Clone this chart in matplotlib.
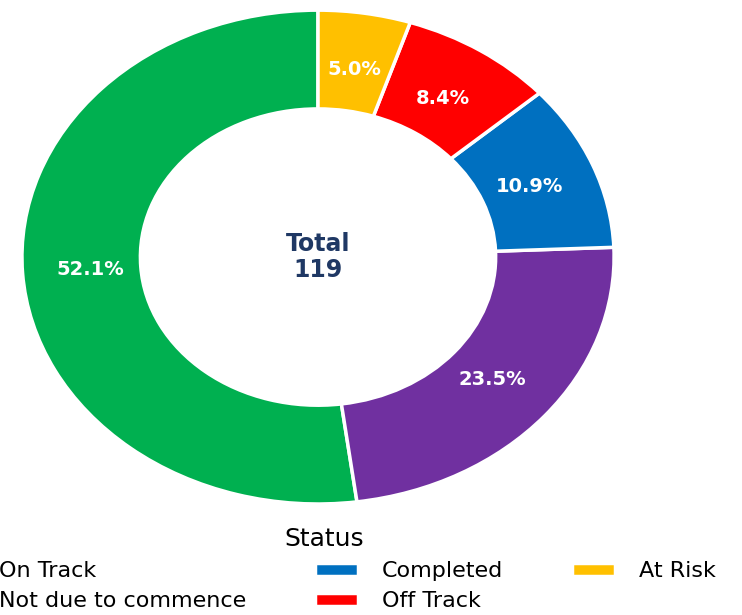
import matplotlib.pyplot as plt

labels = ["On Track", "Not due to commence", "Completed", "Off Track", "At Risk"]
counts = [62, 28, 13, 10, 6]
colors = ["#00B050", "#7030A0", "#0070C0", "#FF0000", "#FFC000"]
total = sum(counts)

fig = plt.figure(figsize=(7.42, 6.15), dpi=100)
# pie area is stretched wider than tall, like the reference
ax = fig.add_axes([0.0296, 0.1805, 0.798, 0.803])

wedges, texts, autotexts = ax.pie(
    counts,
    colors=colors,
    startangle=90,
    autopct="%1.1f%%",
    pctdistance=0.77,
    wedgeprops=dict(width=0.4, edgecolor="white", linewidth=2.5),
    textprops=dict(color="white", fontsize=14, fontweight="bold"),
)
ax.set_aspect("auto")
ax.set_xlim(-1, 1)
ax.set_ylim(-1, 1)

ax.text(0, 0.0, f"Total\n{total}", ha="center", va="center",
        fontsize=17, fontweight="bold", color="#1F3864", linespacing=1.1)

fig.legend(
    wedges, labels,
    title="Status",
    loc="upper center",
    bbox_to_anchor=(324 / 742, 0.168),
    ncol=3,
    frameon=False,
    fontsize=16,
    title_fontsize=18,
    handlelength=1.94,
    handleheight=0.55,
    handletextpad=1.08,
    columnspacing=3.1,
    labelspacing=0.45,
    borderpad=0.2,
)

fig.savefig("out.png", dpi=100)
